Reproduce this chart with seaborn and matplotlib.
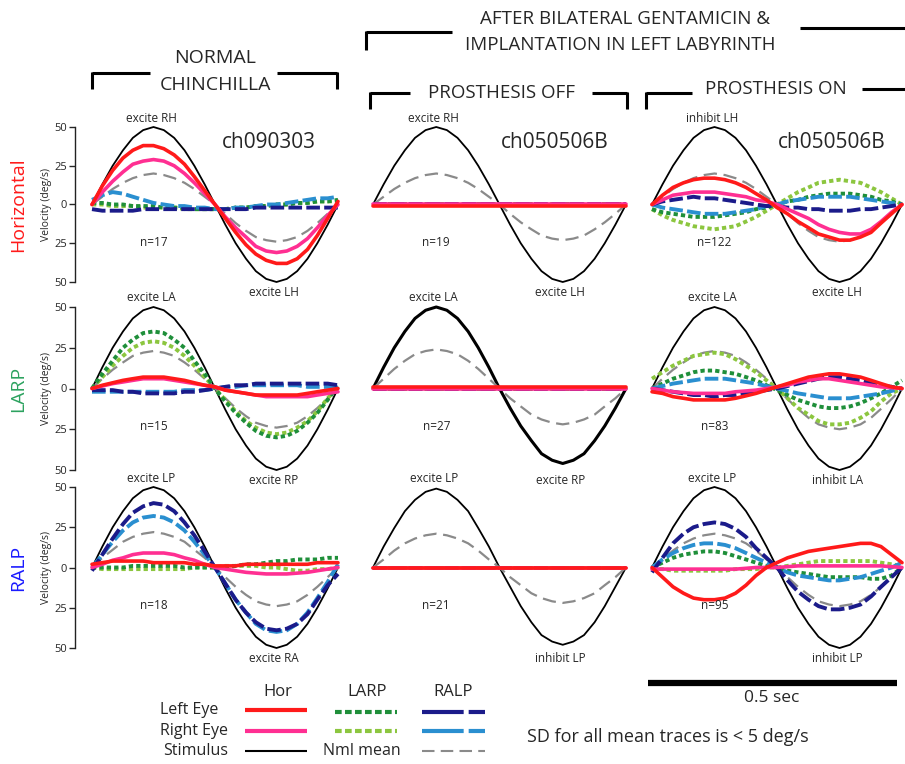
import numpy as np
import pandas as pd
import matplotlib
matplotlib.use("Agg")
import matplotlib.pyplot as plt
from matplotlib.lines import Line2D
import seaborn as sns

# ---------------- data (every 1/24 cycle) ----------------
t_ms = [0, 21, 42, 63, 83, 104, 125, 146, 167, 188, 208, 229, 250,
        271, 292, 313, 333, 354, 375, 396, 417, 438, 458, 479, 500]
stim50 = [0, 13, 25, 35, 43, 48, 50, 48, 43, 35, 25, 13, 0,
          -13, -25, -35, -43, -48, -50, -48, -43, -35, -25, -13, 0]
flat0 = [0, 0, 0, 0, 0, 0, 0, 0, 0, 0, 0, 0, 0, 0, 0, 0, 0, 0, 0, 0, 0, 0, 0, 0, 0]

norm_hor = {
    "stim": stim50,
    "nml": [0, 5, 10, 14, 17, 19, 20, 19, 17, 14, 10, 5, 0, -6, -12, -17, -21, -23, -24, -23, -21, -17, -12, -6, 0],
    "larp_R": [0, 0, -1, -1, -1, -2, -2, -2, -2, -3, -3, -3, -3, -3, -2, -2, -1, -1, 0, 0, 1, 1, 2, 2, 2],
    "larp_L": [1, 1, 0, 0, -1, -1, -1, -2, -2, -2, -3, -3, -3, -3, -2, -2, -1, -1, 0, 0, 1, 1, 2, 2, 3],
    "ralp_R": [3, 6, 8, 7, 5, 3, 1, 0, -1, -1, -2, -2, -3, -3, -2, -2, -1, 0, 0, 1, 2, 3, 4, 4, 5],
    "ralp_L": [-3, -4, -4, -4, -4, -3, -3, -3, -3, -3, -3, -3, -3, -3, -3, -3, -2, -2, -2, -2, -2, -2, -2, -2, -2],
    "hor_R": [0, 8, 15, 21, 26, 28, 29, 28, 25, 20, 14, 7, 0, -8, -15, -21, -27, -30, -31, -30, -27, -22, -15, -7, 0],
    "hor_L": [0, 12, 22, 30, 35, 38, 38, 36, 32, 26, 18, 9, 0, -9, -18, -26, -32, -36, -38, -38, -35, -29, -20, -9, 2],
}
norm_larp = {
    "stim": stim50,
    "nml": [0, 6, 11.5, 16, 20, 22, 23, 22, 20, 16, 11.5, 6, 0, -6, -12, -17, -21, -23, -24, -23, -21, -17, -12, -6, 0],
    "larp_R": [0, 7, 14, 20, 25, 28, 29, 28, 25, 20, 14, 7, 0, -7, -14, -20, -24, -27, -28, -27, -24, -20, -14, -6, 1],
    "larp_L": [0, 9, 17, 25, 30, 34, 35, 34, 30, 25, 17, 9, 0, -8, -15, -21, -26, -29, -30, -29, -26, -21, -15, -7, 2],
    "ralp_R": [-2, -2, -2, -2, -2, -2, -2, -2, -2, -1, -1, -1, 0, 1, 1, 2, 2, 2, 2, 2, 2, 1, 1, 1, 1],
    "ralp_L": [-1, -1, -1, -2, -2, -3, -3, -3, -3, -2, -2, -1, 0, 1, 2, 2, 3, 3, 3, 3, 3, 3, 3, 3, 2],
    "hor_R": [0, 1.5, 3, 4, 5, 6, 6, 6, 5, 4, 3, 2, 1, -1, -2, -3, -4, -5, -5, -5, -5, -5, -4, -3, -2],
    "hor_L": [0, 2, 3.5, 5, 6, 7, 7, 7, 6, 5, 3.5, 2, 1, -1, -2, -3, -4, -4, -4, -4, -4, -3, -2, -1, 0],
}
norm_ralp = {
    "stim": stim50,
    "nml": [0, 6, 11, 16, 19, 21, 22, 21, 19, 16, 11, 6, 0, -6, -12, -17, -21, -23, -24, -23, -21, -17, -12, -6, 0],
    "larp_R": [0, -1, -1, -1, -1, -1, -1, -1, -1, -1, 0, 0, 0, 1, 1, 1, 1, 0, 0, -1, -2, -2, -1, -1, 0],
    "larp_L": [0, 0, 0, 0, 1, 1, 1, 1, 1, 0, 0, 0, 0, 0, 1, 2, 2, 3, 4, 4, 5, 5, 5, 6, 6],
    "ralp_R": [0, 8, 16, 23, 28, 31, 32, 31, 28, 23, 16, 8, 0, -10, -20, -28, -35, -39, -40, -39, -35, -28, -19, -9, 2],
    "ralp_L": [-2, 8, 18, 27, 34, 38, 40, 39, 35, 28, 20, 10, 0, -10, -20, -28, -34, -38, -39, -38, -35, -29, -20, -11, -4],
    "hor_R": [0, 2, 4.5, 6, 8, 9, 9, 9, 8, 6, 4.5, 2, 0, -1, -2, -3, -3.5, -4, -4, -4, -3.5, -3, -2, -1, 0],
    "hor_L": [2, 3, 4, 4, 4, 4, 3, 3, 3, 3, 2, 2, 1, 1, 1, 2, 2, 2, 2, 2, 2, 2, 3, 3, 3],
}
off_hor = {
    "stim": stim50,
    "nml": [0, 5, 10, 14, 17, 19, 20, 19, 17, 14, 10, 5, 0, -6, -11.5, -16, -20, -22, -23, -22, -20, -16, -11.5, -6, 0],
    "larp_R": flat0, "larp_L": flat0, "ralp_R": flat0, "ralp_L": flat0, "hor_R": flat0,
    "hor_L": [-1, -1, -1, -1, -1, -1, -1, -1, -1, -1, -1, -1, -1, -1, -1, -1, -1, -1, -1, -1, -1, -1, -1, -1, -1],
}
off_larp = {
    "stim": [0, 13, 25, 35, 43, 48, 50, 48, 43, 35, 25, 13, 0, -12, -23, -32, -40, -44, -46, -44, -40, -32, -23, -12, 0],
    "nml": [0, 6, 12, 17, 21, 23, 24, 23, 21, 17, 12, 6, 0, -6, -11, -16, -19, -21, -22, -21, -19, -16, -11, -6, 0],
    "larp_R": flat0, "larp_L": flat0, "ralp_R": flat0, "ralp_L": flat0, "hor_R": flat0,
    "hor_L": [1, 1, 1, 1, 1, 1, 1, 1, 1, 1, 1, 1, 1, 1, 1, 1, 1, 1, 1, 1, 1, 1, 1, 1, 1],
}
off_ralp = {
    "stim": [0, 13, 24.5, 35, 42, 47, 49, 47, 42, 35, 24.5, 13, 0, -12, -24, -34, -42, -46, -48, -46, -42, -34, -24, -12, 0],
    "nml": [0, 5, 10.5, 15, 18, 20, 21, 20, 18, 15, 10.5, 5, 0, -6, -11, -16, -19, -21, -22, -21, -19, -16, -11, -6, 0],
    "larp_R": flat0, "larp_L": flat0, "ralp_R": flat0, "ralp_L": flat0, "hor_R": flat0,
    "hor_L": flat0,
}
on_hor = {
    "stim": stim50,
    "nml": [0, 5, 10, 14, 17, 19, 20, 19, 17, 14, 10, 5, 0, -6, -12, -17, -21, -23, -24, -23, -21, -17, -12, -6, 0],
    "larp_R": [-3, -7, -10, -12, -14, -15, -16, -15, -14, -11, -8, -4, 0, 4, 8, 11, 14, 15, 16, 15, 14, 11, 8, 4, 0],
    "larp_L": [-3, -5, -6, -7, -8, -8, -8, -7, -6, -5, -3, -2, 0, 2, 3, 5, 6, 7, 7, 7, 6, 5, 3, 2, 0],
    "ralp_R": [0, -2, -3, -4, -5, -6, -6, -6, -5, -4, -3, -1, 0, 2, 3, 4, 5, 5, 5, 5, 4, 3, 2, 1, 0],
    "ralp_L": [0, 2, 3, 4, 5, 4, 4, 3, 2, 1, 0, -1, -1, -2, -2, -3, -3, -4, -4, -4, -3, -3, -2, -1, 0],
    "hor_R": [0, 3, 6, 7, 8, 8, 8, 7, 6, 5, 3, 2, 0, -3, -6, -9, -13, -16, -18, -19, -19, -16, -11, -5, 0],
    "hor_L": [0, 6, 11, 14, 16, 17, 17, 16, 14, 11, 7, 3, -2, -6, -11, -15, -19, -21, -23, -23, -21, -18, -12, -6, 0],
}
on_larp = {
    "stim": stim50,
    "nml": [0, 6, 11.5, 16, 20, 22, 23, 22, 20, 16, 11.5, 6, 0, -6.5, -12.5, -18, -22, -24, -25, -24, -22, -18, -12.5, -6.5, 0],
    "larp_R": [6, 10, 14, 17, 20, 21, 22, 21, 18, 14, 10, 5, 0, -6, -12, -16, -20, -22, -22, -21, -18, -14, -8, -3, 0],
    "larp_L": [0, 3, 6, 8, 10, 11, 11, 10, 9, 7, 5, 2, -1, -4, -7, -9, -11, -12, -12, -11, -9, -6, -3, 1, 5],
    "ralp_R": [0, 1.5, 3, 4, 5, 6, 6, 6, 5, 4, 3, 1.5, 0, -1.5, -3, -4, -5, -6, -6, -6, -5, -4, -3, -1.5, 0],
    "ralp_L": [0, -1, -2, -3, -4, -4, -5, -4, -4, -3, -2, -1, 0, 1.5, 3, 4.5, 6, 7, 7, 6, 5, 3.5, 2, 1, 0],
    "hor_R": [0, -1, -2, -2.5, -3, -3, -3, -3, -2, -1.5, -1, 0, 1, 2, 4, 5, 6, 6, 5, 4, 3, 2, 1, 0.5, 0],
    "hor_L": [-2, -3, -5, -6, -7, -7, -7, -7, -6, -4.5, -3, -1, 1, 3, 5, 7, 8, 9, 9, 8, 7, 5, 3, 1, 0],
}
on_ralp = {
    "stim": stim50,
    "nml": [0, 5, 10.5, 15, 18, 20, 21, 20, 18, 15, 10.5, 5, 0, -6, -12, -17, -21, -23, -24, -23, -21, -17, -12, -6, 0],
    "larp_R": [-1, -1, -2, -2, -2, -2, -2, -2, -1, -1, -1, 0, 0, 1, 2, 3, 4, 4, 4, 4, 4, 4, 3, 2, 1],
    "larp_L": [0, 3, 6, 8, 9, 10, 10, 9, 7, 5, 3, 1, 0, -2, -3, -4, -5, -6, -6, -6, -6, -7, -7, -5, 0],
    "ralp_R": [0, 5, 9, 12, 14, 15, 15, 14, 12, 9, 6, 3, 0, -3, -5, -6, -7, -8, -8, -7, -6, -4, -2, 0, 3],
    "ralp_L": [-3, 6, 15, 21, 25, 27, 28, 27, 24, 19, 12, 6, 0, -8, -15, -20, -24, -26, -26, -25, -23, -18, -12, -6, 0],
    "hor_R": [-1, -1, -1, -1, -1, -1, -1, -1, -1, -0.5, 0, 0, 0, 0.5, 1, 1, 1, 1, 1, 1, 1, 1, 1, 0.5, 0],
    "hor_L": [0, -6, -12, -16, -19, -20, -20, -19, -16, -11, -5, 0, 3, 6, 8, 10, 11, 12, 13, 14, 15, 15, 13, 8, 3],
}

y_ticks = [50, 25, 0, -25, -50]
y_tick_labels = ["50", "25", "0", "25", "50"]
row_names = ["Horizontal", "LARP", "RALP"]
n_labels = [["n=17", "n=19", "n=122"], ["n=15", "n=27", "n=83"], ["n=18", "n=21", "n=95"]]
top_labels = [["excite RH", "excite RH", "inhibit LH"],
              ["excite LA", "excite LA", "excite LA"],
              ["excite LP", "excite LP", "excite LP"]]
bot_labels = [["excite LH", "excite LH", "excite LH"],
              ["excite RP", "excite RP", "inhibit LA"],
              ["excite RA", "inhibit LP", "inhibit LP"]]
ids = ["ch090303", "ch050506B", "ch050506B"]

panels = [[norm_hor, off_hor, on_hor],
          [norm_larp, off_larp, on_larp],
          [norm_ralp, off_ralp, on_ralp]]

# ---------------- styles ----------------
C_RED = "#ff1a1a"
C_MAG = "#ff2f92"
C_DGREEN = "#1f8f3a"
C_LGREEN = "#8cc63f"
C_NAVY = "#1b1b8a"
C_LBLUE = "#2a8fd0"
C_GRAY = "#8a8a8a"
DOT = (0, (1.1, 0.8))
DASH = (0, (3.5, 1.1))
GDASH = (0, (6, 3))
styles = {
    "stim": dict(color="black", lw=1.3, ls="-"),
    "nml": dict(color=C_GRAY, lw=1.6, ls=GDASH),
    "larp_R": dict(color=C_LGREEN, lw=2.8, ls=DOT),
    "larp_L": dict(color=C_DGREEN, lw=2.8, ls=DOT),
    "ralp_R": dict(color=C_LBLUE, lw=2.8, ls=DASH),
    "ralp_L": dict(color=C_NAVY, lw=2.8, ls=DASH),
    "hor_R": dict(color=C_MAG, lw=2.6, ls="-"),
    "hor_L": dict(color=C_RED, lw=2.6, ls="-"),
}
order = ["stim", "nml", "larp_R", "larp_L", "ralp_R", "ralp_L", "hor_R", "hor_L"]

sns.set_style("white")
plt.rcParams["font.family"] = ["Open Sans", "DejaVu Sans"]

W, H = 905, 764
fig = plt.figure(figsize=(W / 100, H / 100), dpi=100)


def fx(x):
    return x / W


def fy(y):
    return 1 - y / H


col_x = [(92, 338), (373, 626), (652, 902)]
row_y = [(127, 282), (307, 470), (487, 648)]

for r in range(3):
    for c in range(3):
        x0, x1 = col_x[c]
        y0, y1 = row_y[r]
        ax = fig.add_axes([fx(x0), fy(y1), (x1 - x0) / W, (y1 - y0) / H])
        ax.set_facecolor("none")
        d = panels[r][c]
        for key in order:
            st = styles[key]
            lw = st["lw"]
            if key == "stim" and r == 1 and c == 1:
                lw = 2.2
            sns.lineplot(x=t_ms, y=d[key], ax=ax, color=st["color"], linewidth=lw,
                         linestyle=st["ls"], legend=False, clip_on=False)
        ax.set_xlim(0, 500)
        ax.set_ylim(-50, 50)
        ax.set_xlabel("")
        ax.set_ylabel("")
        for s in ["top", "right", "bottom"]:
            ax.spines[s].set_visible(False)
        ax.set_xticks([])
        if c == 0:
            ax.spines["left"].set_position(("outward", 12))
            ax.spines["left"].set_linewidth(1.0)
            ax.spines["left"].set_color("#222222")
            ax.set_yticks(y_ticks)
            ax.set_yticklabels(y_tick_labels, fontsize=8)
            ax.tick_params(axis="y", direction="out", length=4, width=1, pad=2, left=True)
        else:
            ax.spines["left"].set_visible(False)
            ax.set_yticks([])

        fig.text(fx(x0 + 0.24 * (x1 - x0)), fy(y0 - 9), top_labels[r][c], ha="center", va="center", fontsize=8.5)
        fig.text(fx(x0 + 0.74 * (x1 - x0)), fy(y1 + 10), bot_labels[r][c], ha="center", va="center", fontsize=8.5)
        fig.text(fx(x0 + 0.25 * (x1 - x0)), fy((y0 + y1) / 2 + 38), n_labels[r][c], ha="center", va="center", fontsize=8.5)

    y0, y1 = row_y[r]
    fig.text(fx(18), fy((y0 + y1) / 2), row_names[r], rotation=90, ha="center", va="center",
             fontsize=14, color=[C_RED, "#2ca25f", "#1a1aff"][r])
    fig.text(fx(46), fy((y0 + y1) / 2), "Velocity (deg/s)", rotation=90, ha="center", va="center", fontsize=7.5)

for c, cid in enumerate(ids):
    x0, x1 = col_x[c]
    fig.text(fx(x0 + 0.72 * (x1 - x0)), fy(143), cid, ha="center", va="center", fontsize=15)


def seg(xa, ya, xb, yb, lw=2.2, color="black", ls="-"):
    fig.add_artist(Line2D([fx(xa), fx(xb)], [fy(ya), fy(yb)], transform=fig.transFigure,
                          color=color, lw=lw, ls=ls, solid_capstyle="butt"))


# headers
fig.text(fx(215), fy(58), "NORMAL", ha="center", va="center", fontsize=14)
fig.text(fx(215), fy(85), "CHINCHILLA", ha="center", va="center", fontsize=14)
seg(92, 73, 150, 73); seg(92, 72, 92, 89)
seg(277, 73, 337, 73); seg(337, 72, 337, 89)

fig.text(fx(625), fy(19), "AFTER BILATERAL GENTAMICIN &", ha="center", va="center", fontsize=13.5)
fig.text(fx(620), fy(45), "IMPLANTATION IN LEFT LABYRINTH", ha="center", va="center", fontsize=13.5)
seg(366, 32, 452, 32); seg(366, 31, 366, 50)
seg(800, 28, 905, 28)

fig.text(fx(502), fy(93), "PROSTHESIS OFF", ha="center", va="center", fontsize=13.5)
seg(370, 93, 410, 93); seg(370, 92, 370, 109)
seg(592, 93, 627, 93); seg(627, 92, 627, 109)

fig.text(fx(776), fy(89), "PROSTHESIS ON", ha="center", va="center", fontsize=13.5)
seg(646, 93, 692, 93); seg(646, 92, 646, 109)
seg(862, 89, 905, 89)

# scale bar
seg(648, 683, 897, 683, lw=4.5)
fig.text(fx(772), fy(698), "0.5 sec", ha="center", va="center", fontsize=12.5)

# legend
fig.text(fx(278), fy(692), "Hor", ha="center", va="center", fontsize=12)
fig.text(fx(367), fy(692), "LARP", ha="center", va="center", fontsize=12)
fig.text(fx(453), fy(692), "RALP", ha="center", va="center", fontsize=12)
fig.text(fx(160), fy(710), "Left Eye", ha="left", va="center", fontsize=11.5)
fig.text(fx(160), fy(731), "Right Eye", ha="left", va="center", fontsize=11.5)
fig.text(fx(163), fy(751), "Stimulus", ha="left", va="center", fontsize=11.5)
fig.text(fx(323), fy(751), "Nml mean", ha="left", va="center", fontsize=11.5)
seg(245, 710, 307, 710, lw=3, color=C_RED)
seg(245, 731, 307, 731, lw=3, color=C_MAG)
seg(245, 751, 307, 751, lw=1.5, color="black")
seg(335, 712, 397, 712, lw=3, color=C_DGREEN, ls=(0, (1.6, 0.8)))
seg(335, 731, 397, 731, lw=3, color=C_LGREEN, ls=(0, (1.6, 0.8)))
seg(422, 712, 485, 712, lw=3, color=C_NAVY, ls=(0, (10, 1.2)))
seg(422, 731, 485, 731, lw=3, color=C_LBLUE, ls=(0, (10, 1.2)))
seg(422, 751, 485, 751, lw=1.5, color=C_GRAY, ls=(0, (6, 3)))
fig.text(fx(527), fy(737), "SD for all mean traces is < 5 deg/s", ha="left", va="center", fontsize=13)

fig.savefig("out.png", dpi=100)
